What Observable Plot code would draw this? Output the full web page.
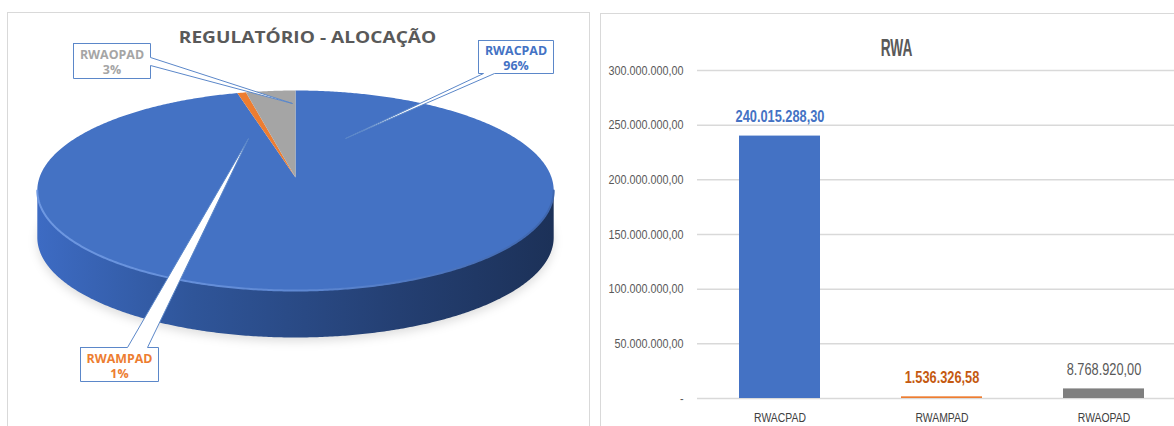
<!DOCTYPE html>
<html><head><meta charset="utf-8">
<script src="https://cdn.jsdelivr.net/npm/d3@7"></script>
<script src="https://cdn.jsdelivr.net/npm/@observablehq/plot@0.6"></script>
<style>
html,body{margin:0;padding:0;background:#fff;overflow:hidden;width:1174px;height:426px;}
#wrap{position:relative;width:1174px;height:426px;overflow:hidden;}
.panel{position:absolute;border:1px solid #d9d9d9;box-sizing:border-box;}
#left{left:7px;top:12px;width:583px;height:440px;}
#right{left:600px;top:13px;width:600px;height:440px;}
#pie{position:absolute;left:0;top:0;width:590px;height:426px;}
#bars{position:absolute;left:590px;top:0;width:620px;height:426px;}
#pie svg,#bars svg{max-width:none !important;}
</style></head><body><div id="wrap">
<div class="panel" id="left"></div><div class="panel" id="right"></div>
<div id="pie"></div><div id="bars"></div></div>
<script>
// ---- data ----
const categories = ["RWACPAD", "RWAMPAD", "RWAOPAD"];
const rwaValues = [240015288.30, 1536326.58, 8768920.00];
const pieLabels = ["96%", "1%", "3%"];
const yTicks = [0, 50e6, 100e6, 150e6, 200e6, 250e6, 300e6];
const pieTitle = "REGULATÓRIO - ALOCAÇÃO";
const barTitle = "RWA";

// ---- styles ----
const BARFONT = "'Liberation Sans', Arial, sans-serif";
const SANS = "'Open Sans', 'Noto Sans', sans-serif";
const pieColors = ["#4472C4", "#ED7D31", "#A5A5A5"];
const barColors = ["#4472C4", "#ED7D31", "#7F7F7F"];
const barLabelStyle = [
  {fill: "#4472C4", fontWeight: "bold"},
  {fill: "#C55A11", fontWeight: "bold"},
  {fill: "#595959", fontWeight: "normal"}
];

const ptBR = d3.formatLocale({decimal: ",", thousands: ".", grouping: [3], currency: ["R$", ""]});
const fmt = ptBR.format(",.2f");

const barData = categories.map((c, i) => ({cat: c, value: rwaValues[i], label: fmt(rwaValues[i]), pct: pieLabels[i]}));

// horizontal scaling of text elements (font width look); vertical attrs untouched
function stretch(selection, k) {
  selection.each(function () {
    const t = d3.select(this);
    const xa = t.attr("x");
    let x = 0;
    if (xa != null && isFinite(+xa)) { x = +xa; t.attr("x", null); }
    const tr = t.attr("transform") || "";
    t.attr("transform", `${tr} translate(${x},0) scale(${k},1)`);
  });
}

// ================= PIE (3D look) =================
const G = {cx: 295, cy: 177, A: 256, B: 98.3, P: 0.13, depth: 47};
function proj(a, dy = 0) {
  const u = Math.sin(a), v = Math.cos(a), s = 1 / (1 + G.P * v);
  return {x: G.cx + G.A * u * s, y: G.cy - G.B * v * s + dy};
}
const arcs = d3.pie().sort(null).value(d => d.value).startAngle(0).endAngle(2 * Math.PI)(barData);
const STEP = Math.PI / 360;
function arcPts(a0, a1, dy = 0) {
  const n = Math.max(2, Math.ceil(Math.abs(a1 - a0) / STEP));
  return d3.range(n + 1).map(i => proj(a0 + (a1 - a0) * i / n, dy));
}
const aL = Math.acos(-G.P), aR = 2 * Math.PI - Math.acos(-G.P);

const topPts = [], sidePts = [], rimPts = [];
arcs.forEach(a => {
  const k = a.data.cat;
  [{x: G.cx, y: G.cy}, ...arcPts(a.startAngle, a.endAngle), {x: G.cx, y: G.cy}]
    .forEach(p => topPts.push({...p, key: k}));
  const s0 = Math.max(a.startAngle, aL), s1 = Math.min(a.endAngle, aR);
  if (s0 < s1) {
    const ring = [...arcPts(s0, s1), ...arcPts(s1, s0, G.depth)];
    ring.push(ring[0]);
    ring.forEach(p => sidePts.push({...p, key: k}));
    arcPts(s0, s1).forEach(p => rimPts.push({...p, key: k}));
  }
});
const shadowPts = arcPts(aL - 0.25, aR + 0.25, G.depth + 4).map(p => ({...p, key: "s"}));

// callout layout (label boxes + pointer)
const callouts = [
  {key: "RWACPAD", box: [478, 40, 553, 73], edge: "bottom", base: [483, 494], tip: [345, 138]},
  {key: "RWAMPAD", box: [80, 347, 158, 381], edge: "top", base: [127, 147], tip: [248, 138]},
  {key: "RWAOPAD", box: [73, 43, 150, 78], edge: "right", base: [57, 65], tip: [292, 103]}
];
const calloutPts = [];
callouts.forEach(c => {
  const [x0, y0, x1, y1] = c.box, [b0, b1] = c.base, t = {x: c.tip[0], y: c.tip[1]};
  const pts = [{x: x0, y: y0}];
  if (c.edge === "top") pts.push({x: b0, y: y0}, t, {x: b1, y: y0});
  pts.push({x: x1, y: y0});
  if (c.edge === "right") pts.push({x: x1, y: b0}, t, {x: x1, y: b1});
  pts.push({x: x1, y: y1});
  if (c.edge === "bottom") pts.push({x: b1, y: y1}, t, {x: b0, y: y1});
  pts.push({x: x0, y: y1}, {x: x0, y: y0});
  pts.forEach(p => calloutPts.push({...p, key: c.key}));
});
const labelData = callouts.map(c => {
  const d = barData.find(b => b.cat === c.key);
  return {key: c.key, x: (c.box[0] + c.box[2]) / 2, y: (c.box[1] + c.box[3]) / 2 + 1, text: d.cat + "\n" + d.pct};
});

const pie = Plot.plot({
  width: 590, height: 426, margin: 0,
  x: {domain: [0, 590], range: [0, 590], axis: null},
  y: {domain: [0, 426], range: [0, 426], axis: null},
  color: {domain: categories, range: pieColors},
  style: {background: "transparent", overflow: "visible"},
  marks: [
    Plot.line(shadowPts, {x: "x", y: "y", z: "key", fill: "#000", fillOpacity: 0.13, stroke: "none"}),
    Plot.line(sidePts, {x: "x", y: "y", z: "key", fill: "url(#sideGrad)", stroke: "none"}),
    Plot.line(topPts, {x: "x", y: "y", z: "key", fill: "key", stroke: "none"}),
    Plot.line(rimPts, {x: "x", y: "y", z: "key", stroke: "url(#rimGrad)", strokeWidth: 2}),
    Plot.line(calloutPts, {x: "x", y: "y", z: "key", fill: "white", stroke: "#5B87C9", strokeWidth: 1}),
    Plot.text(labelData, {x: "x", y: "y", text: "text", fill: "key", fontWeight: "bold", fontSize: 11.5, fontFamily: SANS, lineHeight: 1.32}),
    Plot.text([pieTitle], {frameAnchor: "top", dx: 12, dy: 31, fill: "#595959", fontWeight: "bold", fontSize: 16.5, fontFamily: SANS})
  ]
});
const defs = d3.select(pie).insert("defs", ":first-child");
const sg = defs.append("linearGradient").attr("id", "sideGrad").attr("gradientUnits", "userSpaceOnUse")
  .attr("x1", 38).attr("x2", 553).attr("y1", 0).attr("y2", 0);
[[0, "#3D6BC3"], [0.3, "#2F5599"], [0.7, "#243F72"], [1, "#1C3158"]].forEach(([o, c]) => sg.append("stop").attr("offset", o).attr("stop-color", c));
const rg = defs.append("linearGradient").attr("id", "rimGrad").attr("gradientUnits", "userSpaceOnUse")
  .attr("x1", 38).attr("x2", 553).attr("y1", 0).attr("y2", 0);
[[0, "#6E98E2"], [0.5, "#5F89D4"], [1, "#3E66AE"]].forEach(([o, c]) => rg.append("stop").attr("offset", o).attr("stop-color", c));
defs.append("filter").attr("id", "blur").attr("x", "-20%").attr("y", "-50%").attr("width", "140%").attr("height", "200%")
  .append("feGaussianBlur").attr("stdDeviation", 5);
// first mark group = shadow
d3.select(pie).select(":scope > g").attr("filter", "url(#blur)");
stretch(d3.select(pie).selectAll("text").filter(function () { return this.textContent === pieTitle; }), 1.16);
stretch(d3.select(pie).selectAll("text").filter(function () { return this.textContent.startsWith("RW"); }), 1.08);
document.getElementById("pie").appendChild(pie);

// ================= BARS =================
const bars = Plot.plot({
  width: 620, height: 426,
  marginLeft: 107, marginRight: 25, marginTop: 70, marginBottom: 28,
  style: {fontFamily: BARFONT, fontSize: "13.5px", color: "#595959", background: "transparent", overflow: "visible"},
  x: {domain: categories, paddingInner: 0.5, paddingOuter: 0.25, label: null},
  y: {domain: [0, 300e6], label: null},
  color: {domain: categories, range: barColors},
  marks: [
    Plot.ruleY(yTicks, {stroke: "#d9d9d9", strokeWidth: 1.5}),
    Plot.barY(barData, {x: "cat", y: "value", fill: "cat"}),
    ...categories.map((c, i) => Plot.text(barData.filter(d => d.cat === c), {
      x: "cat", y: "value", text: "label", dy: -19, fontSize: 16, ...barLabelStyle[i]
    })),
    Plot.axisY(yTicks, {tickSize: 0, tickPadding: 14, tickFormat: d => d === 0 ? "-" : fmt(d), label: null, fill: "#595959"}),
    Plot.axisX({tickSize: 0, tickPadding: 14, label: null, fill: "#404040", fontSize: 13}),
    Plot.text([barTitle], {frameAnchor: "top", dx: -45, dy: -32, fill: "#595959", fontWeight: "bold", fontSize: 24})
  ]
});
stretch(d3.select(bars).selectAll("text").filter(function () { return this.textContent !== barTitle; }), 0.8);
stretch(d3.select(bars).selectAll("text").filter(function () { return this.textContent === barTitle; }), 0.57);
document.getElementById("bars").appendChild(bars);
</script></body></html>
